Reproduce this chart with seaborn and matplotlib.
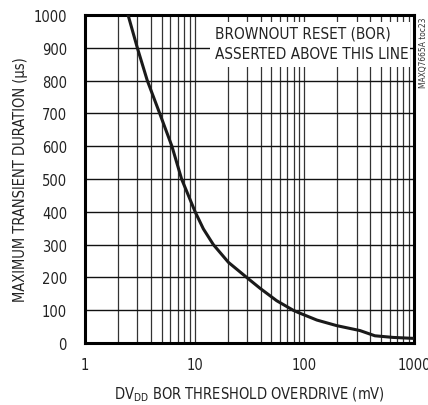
import matplotlib
matplotlib.use("Agg")
import matplotlib.pyplot as plt
import seaborn as sns
import pandas as pd
from matplotlib.patches import Rectangle
from matplotlib.ticker import FixedLocator, NullFormatter, LogLocator

# curve
overdrive_mv = [2.47, 3.0, 3.7, 4.8, 6.2, 7.6, 10.1, 12, 14.8, 20.3, 29.8, 39.4, 55.9,
                79, 88, 130, 197, 321, 440, 646, 1000]
duration_us = [1000, 900, 800, 700, 600, 500, 400, 348, 300, 246, 200, 167, 129,
               100, 93, 70, 53, 38, 22, 17, 14]

x_ticks = [1, 10, 100, 1000]
y_ticks = [0, 100, 200, 300, 400, 500, 600, 700, 800, 900, 1000]

sns.set_style("white")
plt.rcParams['font.family'] = ['DejaVu Sans']
plt.rcParams['font.stretch'] = 'condensed'

df = pd.DataFrame({"overdrive": overdrive_mv, "duration": duration_us})

fig = plt.figure(figsize=(4.28, 4.06), dpi=100)
ax = fig.add_axes([85 / 428, 62 / 406, 329 / 428, 328 / 406])

sns.lineplot(data=df, x="overdrive", y="duration", ax=ax, color="#1a1a1a",
             linewidth=2.2, zorder=4)

ax.set_xscale("log")
ax.set_xlim(1, 1000)
ax.set_ylim(0, 1000)
ax.xaxis.set_major_locator(FixedLocator(x_ticks))
ax.set_xticklabels([str(t) for t in x_ticks])
ax.xaxis.set_minor_locator(LogLocator(base=10, subs=range(2, 10)))
ax.xaxis.set_minor_formatter(NullFormatter())
ax.set_yticks(y_ticks)

ax.grid(True, which="both", axis="x", color="#333333", linewidth=0.9)
ax.grid(True, which="major", axis="y", color="#111111", linewidth=1.0)
ax.set_axisbelow(True)

for s in ax.spines.values():
    s.set_linewidth(2.2)
    s.set_color("black")

ax.tick_params(axis="both", which="both", length=0, labelsize=10.5, colors="#222222")
ax.tick_params(axis="y", pad=13)
ax.tick_params(axis="x", pad=10)

ax.set_xlabel("DV$_{\\mathregular{DD}}$ BOR THRESHOLD OVERDRIVE (mV)", fontsize=10.5,
              color="#222222")
ax.xaxis.set_label_coords(0.5, -0.128)
ax.set_ylabel("MAXIMUM TRANSIENT DURATION (µs)", fontsize=10.5, color="#222222")
ax.yaxis.set_label_coords(-0.172, 0.5)

# white box behind the note, hiding the grid
ax.add_patch(Rectangle((0.38, 0.841), 0.608, 0.138, transform=ax.transAxes,
                       facecolor="white", edgecolor="none", zorder=3))
ax.text(0.395, 0.967, "BROWNOUT RESET (BOR)\nASSERTED ABOVE THIS LINE",
        transform=ax.transAxes, ha="left", va="top", fontsize=11, color="#222222",
        linespacing=1.45, zorder=5)

fig.text(0.989, 0.958, "MAXQ7665A toc23", rotation=90, ha="center", va="top",
         fontsize=6, color="#333333")

plt.savefig("out.png", dpi=100)
